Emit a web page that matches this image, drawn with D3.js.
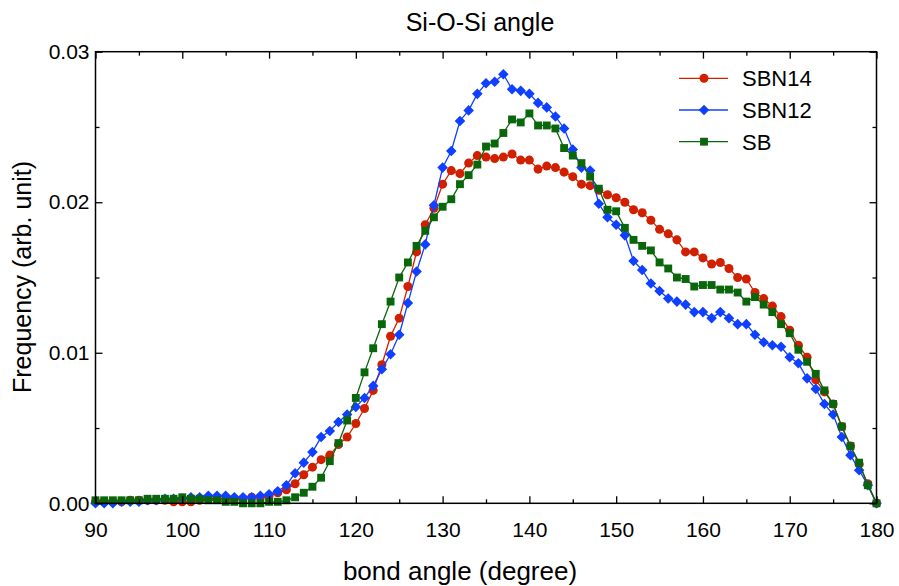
<!DOCTYPE html>
<html>
<head>
<meta charset="utf-8">
<script src="https://cdn.jsdelivr.net/npm/d3@7"></script>
<style>
  html, body { margin: 0; padding: 0; background: #fff; }
  svg { display: block; font-family: "Liberation Sans", Arial, Helvetica, sans-serif; }
</style>
</head>
<body>
<svg id="chart" width="899" height="586"></svg>
<script>
const angles = d3.range(90, 181);
const sbn14 = [
  0.0001,0.0001,0.0001,0.0001,0.0002,0.0002,0.0002,0.0002,0.0002,0.0001,
  0.0001,0.0001,0.0002,0.0003,0.0003,0.0003,0.0003,0.0003,0.0004,0.0004,
  0.0005,0.0007,0.0009,0.0013,0.0019,0.0024,0.0029,0.0032,0.0039,0.0044,
  0.0053,0.0063,0.0075,0.0092,0.0111,0.0123,0.0144,0.0167,0.0185,0.0196,
  0.0212,0.0221,0.0219,0.0226,0.0231,0.0230,0.0229,0.0230,0.0232,0.0228,
  0.0228,0.0222,0.0224,0.0223,0.0220,0.0217,0.0212,0.0211,0.0208,0.0205,
  0.0203,0.0200,0.0195,0.0193,0.0188,0.0182,0.0179,0.0175,0.0167,0.0167,
  0.0163,0.0159,0.0160,0.0156,0.0150,0.0149,0.0140,0.0136,0.0131,0.0124,
  0.0115,0.0105,0.0097,0.0082,0.0074,0.0066,0.0051,0.0038,0.0026,0.0013,0.0000
];
const sbn12 = [
  0.0000,0.0000,0.0000,0.0001,0.0001,0.0001,0.0002,0.0002,0.0003,0.0003,
  0.0003,0.0004,0.0004,0.0005,0.0005,0.0005,0.0004,0.0004,0.0004,0.0005,
  0.0006,0.0008,0.0012,0.0020,0.0027,0.0034,0.0044,0.0048,0.0054,0.0059,
  0.0064,0.0070,0.0078,0.0089,0.0099,0.0112,0.0133,0.0154,0.0172,0.0198,
  0.0223,0.0234,0.0254,0.0261,0.0272,0.0279,0.0280,0.0285,0.0275,0.0274,
  0.0272,0.0266,0.0263,0.0257,0.0249,0.0235,0.0223,0.0221,0.0199,0.0190,
  0.0185,0.0178,0.0161,0.0155,0.0146,0.0141,0.0136,0.0134,0.0132,0.0127,
  0.0127,0.0123,0.0127,0.0123,0.0119,0.0119,0.0112,0.0107,0.0105,0.0104,
  0.0097,0.0093,0.0083,0.0076,0.0066,0.0059,0.0044,0.0032,0.0022,0.0012,0.0000
];
const sb = [
  0.0002,0.0002,0.0002,0.0002,0.0002,0.0002,0.0003,0.0003,0.0003,0.0003,
  0.0004,0.0003,0.0003,0.0002,0.0002,0.0001,0.0001,0.0000,0.0000,0.0000,
  0.0001,0.0001,0.0002,0.0004,0.0007,0.0011,0.0017,0.0028,0.0040,0.0055,
  0.0070,0.0087,0.0103,0.0119,0.0134,0.0150,0.0160,0.0171,0.0181,0.0190,
  0.0197,0.0202,0.0212,0.0218,0.0225,0.0237,0.0239,0.0246,0.0255,0.0253,
  0.0259,0.0251,0.0251,0.0249,0.0236,0.0231,0.0226,0.0217,0.0209,0.0195,
  0.0194,0.0183,0.0175,0.0171,0.0168,0.0160,0.0156,0.0150,0.0149,0.0144,
  0.0145,0.0145,0.0142,0.0142,0.0140,0.0134,0.0137,0.0132,0.0127,0.0119,
  0.0113,0.0102,0.0094,0.0086,0.0075,0.0066,0.0051,0.0038,0.0027,0.0012,0.0000
];
const seriesNames = ["SBN14", "SBN12", "SB"];
const xMajorTicks = [90, 100, 110, 120, 130, 140, 150, 160, 170, 180];
const xMinorTicks = [95, 105, 115, 125, 135, 145, 155, 165, 175];
const yMajorTicks = [0, 0.01, 0.02, 0.03];
const yMinorTicks = [0.005, 0.015, 0.025];

const series = [
  { name: seriesNames[0], values: sbn14, color: "#d02000", symbol: d3.symbolCircle, size: 64, rot: 0 },
  { name: seriesNames[1], values: sbn12, color: "#1040ff", symbol: d3.symbolSquare, size: 56, rot: 45 },
  { name: seriesNames[2], values: sb, color: "#0a660a", symbol: d3.symbolSquare, size: 62, rot: 0 }
];

const svg = d3.select("#chart");
const L = 95.5, R = 876.5, T = 51.7, B = 503.3;
const x = d3.scaleLinear().domain([90, 180]).range([L, R]);
const y = d3.scaleLinear().domain([0, 0.03]).range([B, T]);

// data
const plot = svg.append("g");
series.forEach(s => {
  const pts = angles.map((a, i) => [a, s.values[i]]);
  plot.append("path")
    .attr("d", d3.line().x(d => x(d[0])).y(d => y(d[1]))(pts))
    .attr("fill", "none").attr("stroke", s.color).attr("stroke-width", 1.3);
  plot.selectAll(null).data(pts).enter().append("path")
    .attr("transform", d => `translate(${x(d[0])},${y(d[1])}) rotate(${s.rot})`)
    .attr("d", d3.symbol().type(s.symbol).size(s.size)())
    .attr("fill", s.color);
});

// frame
svg.append("rect").attr("x", L).attr("y", T).attr("width", R - L).attr("height", B - T)
  .attr("fill", "none").attr("stroke", "#000").attr("stroke-width", 1.5);

function styleAxis(g) {
  g.select(".domain").remove();
  g.selectAll(".tick line").attr("stroke", "#000").attr("stroke-width", 1.3);
  g.selectAll(".tick text").attr("fill", "#000").style("font-size", "21px")
    .style("font-family", "'Liberation Sans', Arial, Helvetica, sans-serif");
}
// bottom
svg.append("g").attr("transform", `translate(0,${B})`)
  .call(d3.axisBottom(x).tickValues(xMajorTicks).tickSize(-7).tickPadding(19).tickFormat(d3.format("d")))
  .call(styleAxis);
svg.append("g").attr("transform", `translate(0,${B})`)
  .call(d3.axisBottom(x).tickValues(xMinorTicks).tickSize(-4).tickFormat(""))
  .call(styleAxis);
// top
svg.append("g").attr("transform", `translate(0,${T})`)
  .call(d3.axisTop(x).tickValues(xMajorTicks).tickSize(-7).tickFormat(""))
  .call(styleAxis);
svg.append("g").attr("transform", `translate(0,${T})`)
  .call(d3.axisTop(x).tickValues(xMinorTicks).tickSize(-4).tickFormat(""))
  .call(styleAxis);
// left
svg.append("g").attr("transform", `translate(${L},0)`)
  .call(d3.axisLeft(y).tickValues(yMajorTicks).tickSize(-7).tickPadding(6).tickFormat(d3.format(".2f")))
  .call(styleAxis);
svg.append("g").attr("transform", `translate(${L},0)`)
  .call(d3.axisLeft(y).tickValues(yMinorTicks).tickSize(-4).tickFormat(""))
  .call(styleAxis);
// right
svg.append("g").attr("transform", `translate(${R},0)`)
  .call(d3.axisRight(y).tickValues(yMajorTicks).tickSize(-7).tickFormat(""))
  .call(styleAxis);
svg.append("g").attr("transform", `translate(${R},0)`)
  .call(d3.axisRight(y).tickValues(yMinorTicks).tickSize(-4).tickFormat(""))
  .call(styleAxis);

// title and labels
svg.append("text").attr("x", 480).attr("y", 31).attr("text-anchor", "middle")
  .style("font-size", "25px").text("Si-O-Si angle");
svg.append("text").attr("x", 460).attr("y", 580).attr("text-anchor", "middle")
  .style("font-size", "26px").text("bond angle (degree)");
svg.append("text").attr("transform", "translate(31,277) rotate(-90)").attr("text-anchor", "middle")
  .style("font-size", "25px").text("Frequency (arb. unit)");

// legend
const lg = svg.append("g");
series.forEach((s, i) => {
  const yy = 78.3 + i * 31.7;
  lg.append("line").attr("x1", 679).attr("x2", 728).attr("y1", yy).attr("y2", yy)
    .attr("stroke", s.color).attr("stroke-width", 1.3);
  lg.append("path").attr("transform", `translate(704,${yy}) rotate(${s.rot})`)
    .attr("d", d3.symbol().type(s.symbol).size(s.size)()).attr("fill", s.color);
  lg.append("text").attr("x", 742).attr("y", yy + 8).style("font-size", "22px").text(s.name);
});
</script>
</body>
</html>
